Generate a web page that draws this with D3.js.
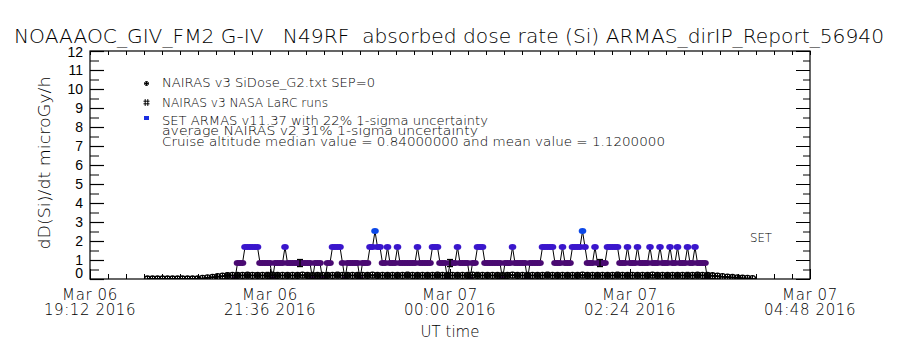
<!DOCTYPE html>
<html><head><meta charset="utf-8">
<script src="https://cdn.jsdelivr.net/npm/d3@7"></script>
<style>
body{margin:0;background:#fff;}
svg{display:block;font-family:"DejaVu Sans","Liberation Sans",Arial,sans-serif;font-weight:200;}
text{white-space:pre;}
</style></head><body>
<svg id="chart" width="900" height="350"></svg>
<script>
// ---------------- data ----------------
const titleText = "NOAAAOC_GIV_FM2 G-IV   N49RF  absorbed dose rate (Si) ARMAS_dirIP_Report_56940";
const yLabel = "dD(Si)/dt microGy/h";
const xLabel = "UT time";
const xDomain = ["2016-03-06T19:12", "2016-03-07T04:48"];
const yDomain = [0, 12];
const yTicks = [0,1,2,3,4,5,6,7,8,9,10,11,12];
const xTickTimes = ["2016-03-06T19:12","2016-03-06T21:36","2016-03-07T00:00","2016-03-07T02:24","2016-03-07T04:48"];
const xTickLine1 = ["Mar 06","Mar 06","Mar 07","Mar 07","Mar 07"];
const xTickLine2 = ["19:12 2016","21:36 2016","00:00 2016","02:24 2016","04:48 2016"];
const legendLabels = ["NAIRAS v3 SiDose_G2.txt SEP=0", "NAIRAS v3 NASA LaRC runs", "SET ARMAS v11.37 with 22% 1-sigma uncertainty"];
const noteLines = ["average NAIRAS v2 31% 1-sigma uncertainty", "Cruise altitude median value = 0.84000000 and mean value = 1.1200000"];
const sideLabel = "SET";

// ARMAS dose rate, one reading every 2 minutes from 21:08 UT
const armasStart = "2016-03-06T21:08";
const armasStepMin = 2;
const armasValues = [
  0, .84, .84, .84, 1.68, 1.68, 1.68, 1.68, 1.68, 1.68,
  .84, .84, .84, .84, .84, 0, .84, .84, .84, .84,
  1.68, .84, .84, .84, .84, .84, .84, .84, .84, .84,
  .84, 0, .84, .84, .84, 0, 0, .84, .84, 1.68,
  1.68, 1.68, 1.68, .84, 0, .84, .84, .84, .84, .84,
  0, .84, .84, .84, 1.68, 1.68, 2.52, 1.68, 1.68, .84,
  .84, 1.68, .84, .84, .84, 1.68, .84, .84, .84, .84,
  .84, .84, .84, 1.68, .84, .84, .84, .84, .84, 1.68,
  1.68, 1.68, .84, .84, .84, 0, .84, .84, .84, 1.68,
  .84, .84, .84, .84, 0, .84, .84, 1.68, 1.68, 1.68,
  .84, .84, .84, .84, .84, .84, .84, 0, .84, .84,
  .84, 1.68, .84, .84, .84, .84, .84, 0, .84, .84,
  .84, .84, .84, 1.68, 1.68, 1.68, 1.68, 1.68, .84, .84,
  .84, 1.68, .84, .84, .84, 1.68, 1.68, 1.68, 1.68, 2.52,
  1.68, .84, .84, .84, 1.68, .84, .84, .84, .84, 1.68,
  1.68, 1.68, 1.68, 1.68, .84, .84, .84, 1.68, .84, .84,
  .84, 1.68, .84, .84, .84, .84, 1.68, .84, .84, .84,
  1.68, .84, .84, .84, 1.68, .84, .84, 1.68, .84, .84,
  .84, 1.68, .84, .84, 1.68, .84, .84, .84, .84, 0
];
const armasSigma = 0.22;
const errTimes = ["2016-03-06T22:00", "2016-03-07T00:00", "2016-03-07T02:00"];
const errValues = [0.84, 0.84, 0.84];

// NAIRAS v3 SiDose, one value every 4 minutes from 19:58 UT
const nairasStart = "2016-03-06T19:58";
const nairasStepMin = 4;
const nairasValues = [
  0, 0, 0, 0, 0, 0, 0, 0, 0, 0, 0,
  0.03, 0.06, 0.09, 0.12, 0.15, 0.18,
  0.19, 0.19, 0.19, 0.2, 0.19, 0.19, 0.19, 0.19, 0.2, 0.19, 0.19, 0.19,
  0.19, 0.19, 0.2, 0.19, 0.19, 0.19, 0.19, 0.19, 0.19, 0.2, 0.19, 0.19,
  0.19, 0.19, 0.19, 0.19, 0.2, 0.19, 0.19, 0.19, 0.19, 0.19, 0.19, 0.2,
  0.19, 0.19, 0.19, 0.19, 0.19, 0.2, 0.19, 0.19, 0.19, 0.19, 0.19, 0.19,
  0.2, 0.19, 0.19, 0.19, 0.19, 0.19, 0.19, 0.19, 0.2, 0.19, 0.19, 0.19,
  0.19, 0.19, 0.19, 0.2, 0.19, 0.19, 0.19, 0.19, 0.19, 0.19, 0.2, 0.19,
  0.19, 0.19, 0.19, 0.19, 0.19, 0.2, 0.19, 0.19, 0.19, 0.19, 0.19, 0.19,
  0.2, 0.19, 0.19, 0.19, 0.19, 0.19, 0.19, 0.19, 0.19, 0.2, 0.19, 0.19,
  0.17, 0.15, 0.12, 0.10, 0.08, 0.06, 0.04, 0.03, 0.02
];

// NAIRAS v3 NASA LaRC runs, one value every 8 minutes from 21:02 UT
const larcStart = "2016-03-06T21:02";
const larcStepMin = 8;
const larcValues = [
  0.18, 0.19, 0.19, 0.19, 0.2, 0.19, 0.19, 0.19, 0.19, 0.19,
  0.19, 0.2, 0.19, 0.19, 0.19, 0.19, 0.19, 0.19, 0.2, 0.19,
  0.19, 0.19, 0.19, 0.19, 0.19, 0.2, 0.19, 0.19, 0.19, 0.19,
  0.19, 0.19, 0.2, 0.19, 0.19, 0.19, 0.19, 0.19, 0.19, 0.2,
  0.19, 0.19, 0.19, 0.19, 0.19, 0.19, 0.2, 0.19, 0.19
];

// ---------------- drawing ----------------
const svg = d3.select("#chart");
const W = 900, H = 350;
const m = {left: 90, right: 810, top: 51, bottom: 279};
const parse = d3.utcParse("%Y-%m-%dT%H:%M");

const x = d3.scaleUtc().domain(xDomain.map(parse)).range([m.left, m.right]);
const y = d3.scaleLinear().domain(yDomain).range([m.bottom, m.top]);
const color = d3.scaleThreshold().domain([1.2, 2.1]).range(["#4a0a72", "#3a16cc", "#0c48e8"]);

svg.append("rect").attr("width", W).attr("height", H).attr("fill", "#fff");

// title
svg.append("text").attr("x", 14).attr("y", 43)
  .attr("font-size", 19).attr("textLength", 870).attr("lengthAdjust", "spacingAndGlyphs")
  .text(titleText);

// clip
svg.append("clipPath").attr("id", "plotclip").append("rect")
  .attr("x", m.left).attr("y", m.top).attr("width", m.right - m.left).attr("height", m.bottom - m.top);

const plot = svg.append("g").attr("clip-path", "url(#plotclip)");

// ARMAS series
const armas = armasValues.map((v, i) => ({t: d3.utcMinute.offset(parse(armasStart), i * armasStepMin), v}));
plot.append("path").datum(armas)
  .attr("d", d3.line().x(d => x(d.t)).y(d => y(d.v)))
  .attr("fill", "none").attr("stroke", "#000").attr("stroke-width", 1);
plot.append("g").selectAll("ellipse").data(armas).join("ellipse")
  .attr("cx", d => x(d.t)).attr("cy", d => y(d.v))
  .attr("rx", 3.8).attr("ry", 3).attr("fill", d => color(d.v));

// error bars
const errs = errTimes.map((t, i) => ({t: parse(t), v: errValues[i]}));
const eg = plot.append("g").attr("stroke", "#000").attr("stroke-width", 1.3);
errs.forEach(d => {
  const cx = x(d.t), y0 = y(d.v * (1 - armasSigma)), y1 = y(d.v * (1 + armasSigma));
  eg.append("line").attr("x1", cx).attr("x2", cx).attr("y1", y0).attr("y2", y1);
  eg.append("line").attr("x1", cx - 3).attr("x2", cx + 3).attr("y1", y0).attr("y2", y0);
  eg.append("line").attr("x1", cx - 3).attr("x2", cx + 3).attr("y1", y1).attr("y2", y1);
});

// NAIRAS SiDose series
const nairas = nairasValues.map((v, i) => ({t: d3.utcMinute.offset(parse(nairasStart), i * nairasStepMin), v}));
plot.append("path").datum(nairas)
  .attr("d", d3.line().x(d => x(d.t)).y(d => y(d.v)))
  .attr("fill", "none").attr("stroke", "#000").attr("stroke-width", 2);
function starCircle(g, cx, cy, r, sw) {
  g.append("circle").attr("cx", cx).attr("cy", cy).attr("r", r)
    .attr("fill", "none").attr("stroke", "#000").attr("stroke-width", sw);
  g.append("path").attr("d", `M${cx - r},${cy}h${2 * r}M${cx},${cy - r}v${2 * r}`)
    .attr("stroke", "#000").attr("stroke-width", 1);
}
const ng = plot.append("g");
nairas.forEach(d => starCircle(ng, x(d.t), y(d.v), 3, 1.3));

// LaRC series
const larc = larcValues.map((v, i) => ({t: d3.utcMinute.offset(parse(larcStart), i * larcStepMin), v}));
function hashPath(cx, cy) {
  return `M${cx - 3},${cy - 1.3}h6M${cx - 3},${cy + 1.3}h6M${cx - 1.3},${cy - 3.4}v6.8M${cx + 1.3},${cy - 3.4}v6.8`;
}
plot.append("g").selectAll("path").data(larc).join("path")
  .attr("d", d => hashPath(x(d.t), y(d.v)))
  .attr("stroke", "#000").attr("stroke-width", 1).attr("fill", "none");

// frame
svg.append("rect").attr("x", m.left).attr("y", m.top)
  .attr("width", m.right - m.left).attr("height", m.bottom - m.top)
  .attr("fill", "none").attr("stroke", "#000").attr("stroke-width", 1.2);

// axes
const yMinor = d3.range(yDomain[0] + 0.5, yDomain[1], 1);
const leftAx = svg.append("g").attr("transform", `translate(${m.left},0)`)
  .call(d3.axisLeft(y).tickValues(yTicks).tickSize(-14).tickPadding(7).tickFormat(d3.format("d")));
leftAx.select(".domain").remove();
leftAx.selectAll(".tick line").attr("stroke-width", 1.2);
leftAx.selectAll("text").attr("font-size", 14).attr("font-family", null).attr("fill", "#000");
leftAx.selectAll(".tick").filter(d => d === 0).select("text").attr("dy", "-0.1em");
leftAx.selectAll(".tick").filter(d => d === 12).select("text").attr("dy", "0.4em");
const leftMinor = svg.append("g").attr("transform", `translate(${m.left},0)`)
  .call(d3.axisLeft(y).tickValues(yMinor).tickSize(-9).tickFormat(""));
leftMinor.select(".domain").remove();

const rightAx = svg.append("g").attr("transform", `translate(${m.right},0)`)
  .call(d3.axisRight(y).tickValues(yTicks).tickSize(-14).tickFormat(""));
rightAx.select(".domain").remove();
const rightMinor = svg.append("g").attr("transform", `translate(${m.right},0)`)
  .call(d3.axisRight(y).tickValues(yMinor).tickSize(-7).tickFormat(""));
rightMinor.select(".domain").remove();

const x0 = parse(xDomain[0]).getTime(), x1 = parse(xDomain[1]).getTime();
const xMinor = d3.range(0, 41).map(i => new Date(x0 + i * (x1 - x0) / 40));
const topAx = svg.append("g").attr("transform", `translate(0,${m.top})`)
  .call(d3.axisTop(x).tickValues(xMinor).tickSize(-4).tickFormat(""));
topAx.select(".domain").remove();
const botMinor = svg.append("g").attr("transform", `translate(0,${m.bottom})`)
  .call(d3.axisBottom(x).tickValues(xMinor).tickSize(-5).tickFormat(""));
botMinor.select(".domain").remove();
const botAx = svg.append("g").attr("transform", `translate(0,${m.bottom})`)
  .call(d3.axisBottom(x).tickValues(xTickTimes.map(parse)).tickSize(-10).tickFormat(""));
botAx.select(".domain").remove();

// x tick labels (two lines)
const xl = svg.append("g").attr("font-size", 15).attr("text-anchor", "middle").attr("letter-spacing", 0.6);
xTickTimes.forEach((t, i) => {
  const cx = x(parse(t));
  xl.append("text").attr("x", cx).attr("y", 300).text(xTickLine1[i]);
  xl.append("text").attr("x", cx).attr("y", 315).text(xTickLine2[i]);
});

// axis titles
svg.append("text").attr("x", 450).attr("y", 337).attr("text-anchor", "middle")
  .attr("font-size", 15).text(xLabel);
svg.append("text").attr("transform", "translate(50,163) rotate(-90)")
  .attr("text-anchor", "middle").attr("font-size", 15)
  .attr("textLength", 173).attr("lengthAdjust", "spacingAndGlyphs").text(yLabel);

// legend
const lg = svg.append("g").attr("font-size", 13);
starCircle(lg, 146.5, 83.5, 2, 1);
lg.append("path").attr("d", hashPath(146.5, 102.5)).attr("stroke", "#000").attr("stroke-width", 1);
lg.append("rect").attr("x", 144).attr("y", 116).attr("width", 5).attr("height", 4).attr("fill", "#1a2ee0");
const legY = [86.5, 106.5, 125];
const legW = [213, 166, 326];
legendLabels.forEach((s, i) => {
  lg.append("text").attr("x", 162).attr("y", legY[i]).attr("textLength", legW[i])
    .attr("lengthAdjust", "spacingAndGlyphs").text(s);
});
const noteY = [135, 146];
const noteW = [316, 503];
noteLines.forEach((s, i) => {
  lg.append("text").attr("x", 162).attr("y", noteY[i]).attr("textLength", noteW[i])
    .attr("lengthAdjust", "spacingAndGlyphs").text(s);
});
svg.append("text").attr("x", 750).attr("y", 242).attr("font-size", 13)
  .attr("textLength", 22).attr("lengthAdjust", "spacingAndGlyphs").text(sideLabel);
</script>
</body></html>
